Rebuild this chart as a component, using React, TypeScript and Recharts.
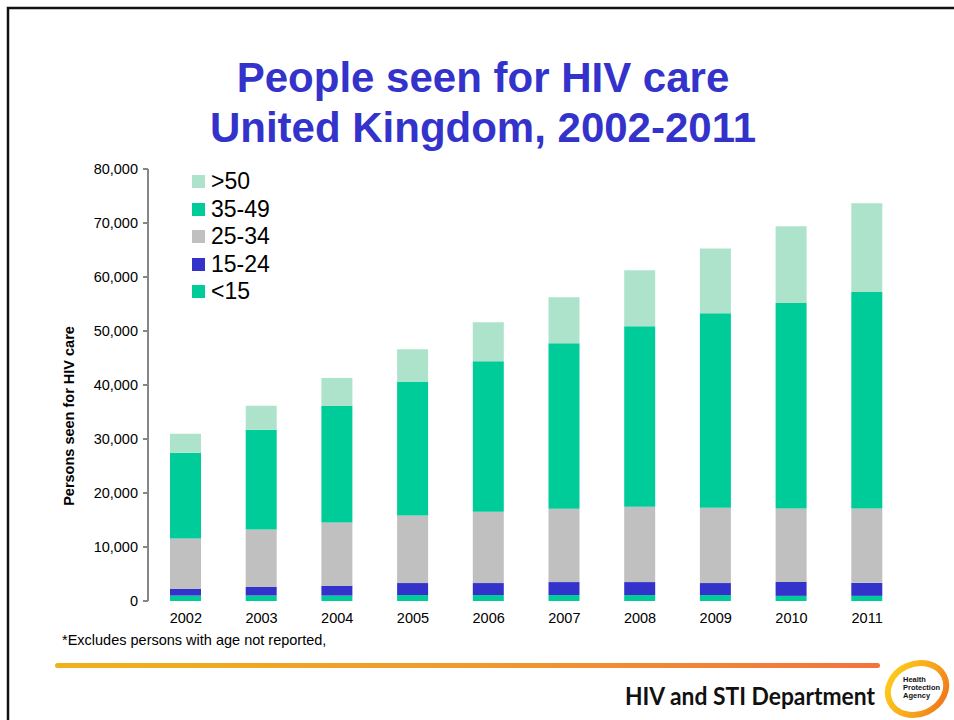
import React from 'react';
import { BarChart, Bar, XAxis, YAxis, Legend } from 'recharts';

const years = ['2002', '2003', '2004', '2005', '2006', '2007', '2008', '2009', '2010', '2011'];
const under15 = [1000, 1000, 1000, 1100, 1100, 1100, 1100, 1100, 950, 950];
const age15to24 = [1240, 1610, 1790, 2220, 2220, 2400, 2400, 2220, 2590, 2410];
const age25to34 = [9330, 10620, 11730, 12520, 13210, 13580, 13950, 13950, 13580, 13760];
const age35to49 = [15890, 18480, 21620, 24710, 27890, 30670, 33440, 36020, 38060, 40090];
const over50 = [3510, 4430, 5170, 6090, 7210, 8500, 10350, 12010, 14230, 16450];
const yTicks = [0, 10000, 20000, 30000, 40000, 50000, 60000, 70000, 80000];
const boundaryTicks = [0, 1, 2, 3, 4, 5, 6, 7, 8, 9, 10];
const legendOrder = ['o50', 'a3549', 'a2534', 'a1524', 'u15'];

const data = years.map((year, i) => ({
  year,
  u15: under15[i],
  a1524: age15to24[i],
  a2534: age25to34[i],
  a3549: age35to49[i],
  o50: over50[i],
}));

const FONT = '"Liberation Sans", Arial, sans-serif';
const AXIS = '#868686';

const renderLegend = (props: any) => {
  const items = [...(props.payload || [])].sort(
    (a: any, b: any) => legendOrder.indexOf(String(a.dataKey)) - legendOrder.indexOf(String(b.dataKey))
  );
  return (
    <div style={{ fontFamily: FONT }}>
      {items.map((it: any) => (
        <div key={String(it.dataKey)} style={{ display: 'flex', alignItems: 'center', height: 27.5 }}>
          <span style={{ display: 'inline-block', width: 13, height: 13, background: it.color, marginRight: 6 }} />
          <span style={{ fontSize: 23, color: '#000', lineHeight: '27px' }}>{it.value}</span>
        </div>
      ))}
    </div>
  );
};

export default function App() {
  return (
    <div style={{ position: 'absolute', left: 0, top: 0, width: 954, height: 720, background: '#fff', fontFamily: FONT, overflow: 'hidden' }}>
      <div style={{ position: 'absolute', left: 0, top: 0 }}>
        <BarChart width={954} height={720} data={data} margin={{ top: 169, right: 49, bottom: 89, left: 88 }}>
          <XAxis
            xAxisId="g"
            type="number"
            domain={[0, 10]}
            ticks={boundaryTicks}
            interval={0}
            allowDataOverflow
            height={0}
            tickSize={5}
            tickLine={{ stroke: AXIS, strokeWidth: 2 }}
            axisLine={{ stroke: AXIS, strokeWidth: 2 }}
            tickFormatter={() => ''}
          />
          <XAxis
            xAxisId="cat"
            dataKey="year"
            height={30}
            axisLine={false}
            tickLine={false}
            tickSize={5}
            tickMargin={7}
            interval={0}
            tick={{ fill: '#000', fontSize: 14.5, fontFamily: FONT }}
          />
          <YAxis
            width={60}
            domain={[0, 80000]}
            ticks={yTicks}
            interval={0}
            tickSize={5}
            tickMargin={5}
            axisLine={{ stroke: AXIS, strokeWidth: 2 }}
            tickLine={{ stroke: AXIS, strokeWidth: 2 }}
            tick={{ fill: '#000', fontSize: 14.5, fontFamily: FONT }}
            tickFormatter={(v: number) => v.toLocaleString('en-US')}
          />
          <Legend
            layout="vertical"
            align="center"
            verticalAlign="middle"
            wrapperStyle={{ left: 192, top: 168, width: 'auto' }}
            content={renderLegend}
          />
          <Bar xAxisId="cat" dataKey="u15" name="<15" stackId="s" fill="#00CC99" barSize={31} isAnimationActive={false} />
          <Bar xAxisId="cat" dataKey="a1524" name="15-24" stackId="s" fill="#3333CC" barSize={31} isAnimationActive={false} />
          <Bar xAxisId="cat" dataKey="a2534" name="25-34" stackId="s" fill="#C0C0C0" barSize={31} isAnimationActive={false} />
          <Bar xAxisId="cat" dataKey="a3549" name="35-49" stackId="s" fill="#00CC99" barSize={31} isAnimationActive={false} />
          <Bar xAxisId="cat" dataKey="o50" name=">50" stackId="s" fill="#ADE3CB" barSize={31} isAnimationActive={false} />
        </BarChart>
      </div>
      <svg width={954} height={720} style={{ position: 'absolute', left: 0, top: 0, pointerEvents: 'none' }}>
        <defs>
          <linearGradient id="rule" x1="0" y1="0" x2="1" y2="0">
            <stop offset="0" stopColor="#EFB21C" />
            <stop offset="0.5" stopColor="#F09A2C" />
            <stop offset="1" stopColor="#F2743E" />
          </linearGradient>
          <linearGradient id="logo" x1="0" y1="0" x2="1" y2="1">
            <stop offset="0" stopColor="#FFD21A" />
            <stop offset="0.6" stopColor="#F7A21C" />
            <stop offset="1" stopColor="#EE6A18" />
          </linearGradient>
        </defs>
        <path d="M8,720 L8,8 L954,8" fill="none" stroke="#111" strokeWidth={2.5} />
        <text x={483} y={92} textAnchor="middle" fontFamily={FONT} fontWeight="bold" fontSize={42} fill="#3333CC">People seen for HIV care</text>
        <text x={483} y={142} textAnchor="middle" fontFamily={FONT} fontWeight="bold" fontSize={42} fill="#3333CC">United Kingdom, 2002-2011</text>
        <text transform="translate(74,416) rotate(-90)" textAnchor="middle" fontFamily={FONT} fontWeight="bold" fontSize={14.5} fill="#000">Persons seen for HIV care</text>
        <text x={62} y={645} fontFamily={FONT} fontSize={14.5} fill="#000">*Excludes persons with age not reported,</text>
        <rect x={55} y={663} width={825} height={5} rx={2.5} fill="url(#rule)" />
        <text x={875} y={705} textAnchor="end" fontFamily="Lato, 'Open Sans', sans-serif" fontWeight="bold" fontSize={24} fill="#111" textLength={250} lengthAdjust="spacingAndGlyphs">HIV and STI Department</text>
        <g transform="translate(917,689) rotate(-25)">
          <ellipse cx={0} cy={0} rx={30} ry={25} fill="none" stroke="url(#logo)" strokeWidth={6} />
        </g>
        <text x={903} y={682} fontFamily={FONT} fontWeight="bold" fontSize={7.5} fill="#111">Health</text>
        <text x={903} y={690} fontFamily={FONT} fontWeight="bold" fontSize={7.5} fill="#111">Protection</text>
        <text x={903} y={698} fontFamily={FONT} fontWeight="bold" fontSize={7.5} fill="#111">Agency</text>
      </svg>
    </div>
  );
}
